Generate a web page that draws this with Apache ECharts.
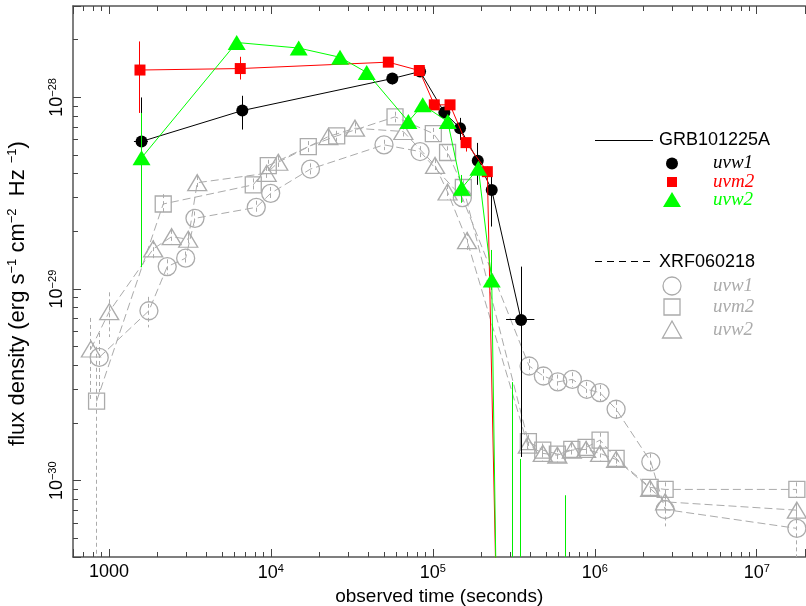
<!DOCTYPE html>
<html><head><meta charset="utf-8">
<script src="https://cdn.jsdelivr.net/npm/echarts@6/dist/echarts.min.js"></script>
<style>html,body{margin:0;padding:0;background:#fff}#c{width:806px;height:606px}</style>
</head><body><div id="c"></div>
<script>
// Flux values are stored in units of 1e-30 erg s^-1 cm^-2 Hz^-1
const FLUX_UNIT_EXP = -30;

// ---------- axes ----------
const xMin = 600, xMax = 2e7;
const yMin = 0.4, yMax = 300;
const xMajorTicks = [1000, 1e4, 1e5, 1e6, 1e7];
const xTickLabels = ['1000', '10^4', '10^5', '10^6', '10^7'];
const yMajorTicks = [1, 10, 100];
const yTickLabels = ['10^-30', '10^-29', '10^-28'];
const xTitle = 'observed time (seconds)';

// ---------- GRB101225A (solid lines) ----------
const grbW1Time = [1590, 6660, 56200, 83400, 117800, 147200, 189400, 231000, 350600];
const grbW1Flux = [58.9, 85.4, 125.5, 136.5, 83.4, 69.1, 46.8, 32.9, 6.90];
const grbW1Lo   = [18, 68, 117, 131, 78, 60, 35, 21.2, 1.33];
const grbW1Hi   = [100, 102, 134, 142, 89, 78.2, 57.9, 38.6, 13.1];
const grbW1TLo  = [1427, 6200, 53000, 80000, 113000, 142000, 183000, 224000, 283200];
const grbW1THi  = [1741, 7150, 59500, 87000, 122500, 152500, 196000, 238000, 423600];

const grbM2Time = [1555, 6470, 53100, 82500, 102100, 127700, 160400, 217000, 305000];
const grbM2Flux = [139, 141.5, 152.8, 138.2, 91.5, 91.5, 58.1, 41.0, 5e-5];
const grbM2Lo   = [83, 124, 145, 133, 86, 86, 52.2, 37.2, 5e-5];
const grbM2Hi   = [196, 163, 161, 144, 97, 97, 61.3, 43.6, 5e-5];

const grbW2Time = [1590, 6150, 14850, 26720, 39050, 70600, 86600, 123600, 150800, 191000, 231000, 308500, 350000, 655600];
const grbW2Flux = [48.4, 193.5, 181, 162, 135, 74.8, 91.5, 74.8, 33.6, 42.7, 11.15, 5e-7, 3e-7, 2e-7];
const grbW2Lo   = [13, 180, 170, 152, 127, 70, 86, 70, 28.2, 39.5, 9.9, 1e-7, 1e-7, 1e-7];
const grbW2Hi   = [83, 208, 192, 172, 143, 80, 97, 80, 39.4, 46, 16, 3.27, 1.3, 0.84];

// ---------- XRF060218 (dashed lines) ----------
const xrfW1Time = [871, 1766, 2291, 2977, 3398, 8124, 9972, 17560, 49940, 83370, 152100, 392900, 481400, 590800, 727300, 892500, 1078000, 1354000, 2218000, 2718000, 17690000];
const xrfW1Flux = [4.40, 7.71, 13.1, 14.5, 23.4, 26.7, 31.6, 42.3, 56.6, 52.2, 30.0, 3.97, 3.52, 3.28, 3.38, 3.00, 2.88, 2.36, 1.255, 0.708, 0.564];
const xrfW1Err  = [1.5, 1.4, 1.2, 1.2, 2.0, 2.2, 2.5, 3.0, 3.5, 3.5, 2.5, 0.35, 0.30, 0.30, 0.30, 0.28, 0.28, 0.25, 0.13, 0.13, 0.18];

const xrfM2Time = [839, 2164, 7785, 9636, 17020, 25490, 58420, 100700, 123300, 154300, 389000, 477300, 587500, 721100, 883700, 1078000, 1354000, 2196000, 2718000, 17690000];
const xrfM2Flux = [2.60, 27.8, 35.0, 44.1, 55.4, 63.0, 79.2, 64.8, 51.6, 33.9, 1.60, 1.445, 1.377, 1.457, 1.492, 1.63, 1.307, 0.923, 0.901, 0.901];
const xrfM2Err  = [2.4, 3.5, 2.8, 3.2, 3.8, 4.0, 5.0, 4.5, 4.0, 3.0, 0.14, 0.12, 0.12, 0.12, 0.12, 0.15, 0.12, 0.08, 0.08, 0.08];

const xrfW2Time = [774, 1004, 1877, 2439, 3089, 3510, 9422, 11110, 22620, 33070, 65730, 103200, 123300, 162700, 385800, 477300, 587500, 721100, 883700, 1078000, 1354000, 2196000, 2718000, 17690000];
const xrfW2Flux = [4.87, 7.62, 16.2, 18.77, 18.2, 35.9, 40.2, 45.9, 62.5, 69.1, 66.4, 44.2, 32.1, 17.9, 1.534, 1.389, 1.36, 1.445, 1.457, 1.389, 1.291, 0.912, 0.776, 0.702];
const xrfW2Err  = [2.2, 2.0, 1.8, 1.6, 1.6, 3.0, 3.2, 3.6, 4.5, 5.0, 5.0, 3.5, 2.8, 2.0, 0.13, 0.12, 0.12, 0.12, 0.12, 0.12, 0.11, 0.08, 0.08, 0.07];

// ---------- legend text ----------
const legendGroups = ['GRB101225A', 'XRF060218'];
const filterNames = ['uvw1', 'uvm2', 'uvw2'];

// ---------- style ----------
const FONT = 'Liberation Sans, Arial, Helvetica, sans-serif';
const SERIF = 'Liberation Serif, Times New Roman, serif';
const GREY = '#ababab';
const AXIS = '#555';

function richLabel(s) {
  const m = s.match(/^(\d+)\^(.+)$/);
  if (!m) return '{b|' + s + '}';
  return '{b|' + m[1] + '}{s|' + m[2].replace('-', '\u2212') + '}';
}
function labelFor(ticks, labels) {
  return function (v) {
    const lv = Math.log10(v);
    for (let i = 0; i < ticks.length; i++) {
      if (Math.abs(lv - Math.log10(ticks[i])) < 1e-6) return richLabel(labels[i]);
    }
    return '';
  };
}
const labelRich = {
  b: { fontFamily: FONT, fontSize: 18, color: '#000' },
  s: { fontFamily: FONT, fontSize: 11, color: '#000', padding: [0, 0, 9, 0] }
};

function pts(t, f) { return t.map((v, i) => [v, f[i]]); }
function crisp(v) { return Math.round(v - 0.5) + 0.5; }

function errSeries(t, f, lo, hi, tlo, thi, color, dashed, z) {
  const data = t.map((v, i) => [v, f[i], lo[i], hi[i], tlo ? tlo[i] : v, thi ? thi[i] : v]);
  return {
    type: 'custom', silent: true, z: z, animation: false,
    encode: { x: 0, y: 1 },
    data: data,
    renderItem: function (params, api) {
      const cs = params.coordSys;
      const top = cs.y, bot = cs.y + cs.height, left = cs.x, right = cs.x + cs.width;
      const t = api.value(0), f = api.value(1);
      const c = api.coord([t, f]);
      const a = api.coord([t, api.value(3)]);
      const b = api.coord([t, api.value(2)]);
      const l = api.coord([api.value(4), f]);
      const r = api.coord([api.value(5), f]);
      const style = { stroke: color, lineWidth: 1, lineDash: dashed ? [4, 3] : null };
      const children = [];
      const y1 = Math.max(top, Math.min(bot, a[1]));
      const y2 = Math.max(top, Math.min(bot, b[1]));
      const cx = crisp(c[0]);
      if (y2 - y1 > 0.5 && c[0] >= left && c[0] <= right) {
        children.push({ type: 'line', shape: { x1: cx, y1: y1, x2: cx, y2: y2 }, style: style });
      }
      if (r[0] - l[0] > 0.5 && c[1] >= top && c[1] <= bot) {
        const cy = crisp(c[1]);
        children.push({ type: 'line', shape: { x1: Math.max(left, l[0]), y1: cy, x2: Math.min(right, r[0]), y2: cy }, style: style });
      }
      return { type: 'group', children: children };
    }
  };
}
function symErr(f, e) { return { lo: f.map((v, i) => v - e[i]), hi: f.map((v, i) => v + e[i]) }; }

function lineSeries(name, t, f, color, symbol, size, dashed, z) {
  return {
    type: 'line', name: name, data: pts(t, f), z: z, clip: true, animation: false,
    symbol: symbol, symbolSize: size, showSymbol: true, showAllSymbol: true,
    lineStyle: { color: dashed ? GREY : color, width: 1, type: dashed ? [8, 4] : 'solid' },
    itemStyle: dashed ? { color: 'rgba(255,255,255,0)', borderColor: GREY, borderWidth: 1.3 } : { color: color, borderWidth: 0 },
    emphasis: { disabled: true }
  };
}

// minor ticks drawn through the axis scales (bottom, top, left)
const minorTickSeries = {
  type: 'custom', silent: true, z: 20, animation: false,
  data: [[1000, 10]],
  renderItem: function (params, api) {
    const cs = params.coordSys;
    const top = cs.y, bot = cs.y + cs.height, left = cs.x;
    const ch = [];
    const st = { stroke: '#444', lineWidth: 1 };
    for (let e = 2; e <= 7; e++) for (let m = 2; m <= 9; m++) {
      const v = m * Math.pow(10, e);
      if (v <= xMin * 1.001 || v >= xMax * 0.999) continue;
      const x = crisp(api.coord([v, 10])[0]);
      ch.push({ type: 'line', shape: { x1: x, y1: bot, x2: x, y2: bot - 5 }, style: st });
      ch.push({ type: 'line', shape: { x1: x, y1: top, x2: x, y2: top + 5 }, style: st });
    }
    for (let e = -1; e <= 2; e++) for (let m = 2; m <= 9; m++) {
      const v = m * Math.pow(10, e);
      if (v <= yMin * 1.001 || v >= yMax * 0.999) continue;
      const y = crisp(api.coord([1000, v])[1]);
      ch.push({ type: 'line', shape: { x1: left, y1: y, x2: left + 5, y2: y }, style: st });
    }
    return { type: 'group', children: ch };
  }
};

const w1 = symErr(xrfW1Flux, xrfW1Err), m2 = symErr(xrfM2Flux, xrfM2Err), w2 = symErr(xrfW2Flux, xrfW2Err);

const series = [
  errSeries(xrfW1Time, xrfW1Flux, w1.lo, w1.hi, null, null, GREY, true, 1),
  errSeries(xrfM2Time, xrfM2Flux, m2.lo, m2.hi, null, null, GREY, true, 1),
  errSeries(xrfW2Time, xrfW2Flux, w2.lo, w2.hi, null, null, GREY, true, 1),
  lineSeries('XRF060218 uvw1', xrfW1Time, xrfW1Flux, GREY, 'circle', 18, true, 2),
  lineSeries('XRF060218 uvm2', xrfM2Time, xrfM2Flux, GREY, 'rect', 16, true, 2),
  lineSeries('XRF060218 uvw2', xrfW2Time, xrfW2Flux, GREY, 'triangle', [19, 16], true, 2),
  errSeries(grbW1Time, grbW1Flux, grbW1Lo, grbW1Hi, grbW1TLo, grbW1THi, '#000', false, 3),
  lineSeries('GRB101225A uvw1', grbW1Time, grbW1Flux, '#000', 'circle', 12, false, 4),
  errSeries(grbM2Time, grbM2Flux, grbM2Lo, grbM2Hi, null, null, '#ff0000', false, 5),
  lineSeries('GRB101225A uvm2', grbM2Time, grbM2Flux, '#ff0000', 'rect', 11, false, 6),
  errSeries(grbW2Time, grbW2Flux, grbW2Lo, grbW2Hi, null, null, '#00ee00', false, 7),
  lineSeries('GRB101225A uvw2', grbW2Time, grbW2Flux, '#00ff00', 'triangle', [18, 15], false, 8),
  minorTickSeries
];

// legend drawn as graphic elements
const LX = 595, LTX = 659, LSX = 672, LNX = 713;
function legendText(x, y, text, color, italic) {
  return { type: 'text', x: x, y: y, style: { text: text, fill: color, verticalAlign: 'middle', align: 'left',
    font: italic ? ('italic 19px ' + SERIF) : ('18px ' + FONT) } };
}
const graphic = [
  { type: 'line', shape: { x1: LX, y1: 140.5, x2: 653, y2: 140.5 }, style: { stroke: '#000', lineWidth: 1 } },
  legendText(LTX, 140, legendGroups[0], '#000', false),
  { type: 'circle', shape: { cx: LSX, cy: 163.5, r: 6 }, style: { fill: '#000' } },
  legendText(LNX, 163, filterNames[0], '#000', true),
  { type: 'rect', shape: { x: LSX - 5, y: 177, width: 10, height: 10 }, style: { fill: '#ff0000' } },
  legendText(LNX, 182, filterNames[1], '#ff0000', true),
  { type: 'polygon', shape: { points: [[LSX, 192], [LSX + 9, 207], [LSX - 9, 207]] }, style: { fill: '#00ff00' } },
  legendText(LNX, 200, filterNames[2], '#00ff00', true),
  { type: 'line', shape: { x1: LX, y1: 261.5, x2: 653, y2: 261.5 }, style: { stroke: '#000', lineWidth: 1, lineDash: [7, 5] } },
  legendText(LTX, 262, legendGroups[1], '#000', false),
  { type: 'circle', shape: { cx: LSX, cy: 286, r: 9 }, style: { fill: 'none', stroke: GREY, lineWidth: 1.3 } },
  legendText(LNX, 286, filterNames[0], GREY, true),
  { type: 'rect', shape: { x: LSX - 8, y: 299, width: 16, height: 16 }, style: { fill: 'none', stroke: GREY, lineWidth: 1.3 } },
  legendText(LNX, 307, filterNames[1], GREY, true),
  { type: 'polygon', shape: { points: [[LSX, 321], [LSX + 9.5, 338], [LSX - 9.5, 338]] }, style: { fill: 'none', stroke: GREY, lineWidth: 1.3 } },
  legendText(LNX, 330, filterNames[2], GREY, true)
];

const axisCommon = {
  type: 'log',
  axisLine: { show: true, lineStyle: { color: AXIS, width: 1.5 } },
  axisTick: { show: true, inside: true, length: 8, lineStyle: { color: '#444', width: 1 } },
  splitLine: { show: false },
  minorTick: { show: false }
};

const option = {
  backgroundColor: '#fff',
  animation: false,
  grid: { left: 73, top: 6, width: 732.5, height: 551, containLabel: false, outerBoundsMode: 'none' },
  xAxis: [
    Object.assign({}, axisCommon, {
      min: xMin, max: xMax, position: 'bottom',
      axisLabel: { margin: 6, formatter: labelFor(xMajorTicks, xTickLabels), rich: labelRich },
      name: xTitle, nameLocation: 'middle', nameGap: 27,
      nameTextStyle: { fontFamily: FONT, fontSize: 19, color: '#000' }
    }),
    Object.assign({}, axisCommon, {
      min: xMin, max: xMax, position: 'top', axisLabel: { show: false }
    })
  ],
  yAxis: [
    Object.assign({}, axisCommon, {
      min: yMin, max: yMax, position: 'left',
      axisLabel: { margin: 6, rotate: 90, formatter: labelFor(yMajorTicks, yTickLabels), rich: labelRich },
      name: '{n|flux density (erg s}{s|\u22121}{n| cm}{s|\u22122}{n|  Hz }{s|\u22121}{n|)}',
      nameLocation: 'middle', nameGap: 43, nameRotate: 90,
      nameTextStyle: {
        padding: [0, 24, 0, 0],
        rich: {
          n: { fontFamily: FONT, fontSize: 22, color: '#000' },
          s: { fontFamily: FONT, fontSize: 13, color: '#000', padding: [0, 0, 11, 0] }
        }
      }
    })
  ],
  series: series,
  graphic: graphic
};

const chart = echarts.init(document.getElementById('c'), null, { renderer: 'canvas' });
chart.setOption(option);
</script>
</body></html>
